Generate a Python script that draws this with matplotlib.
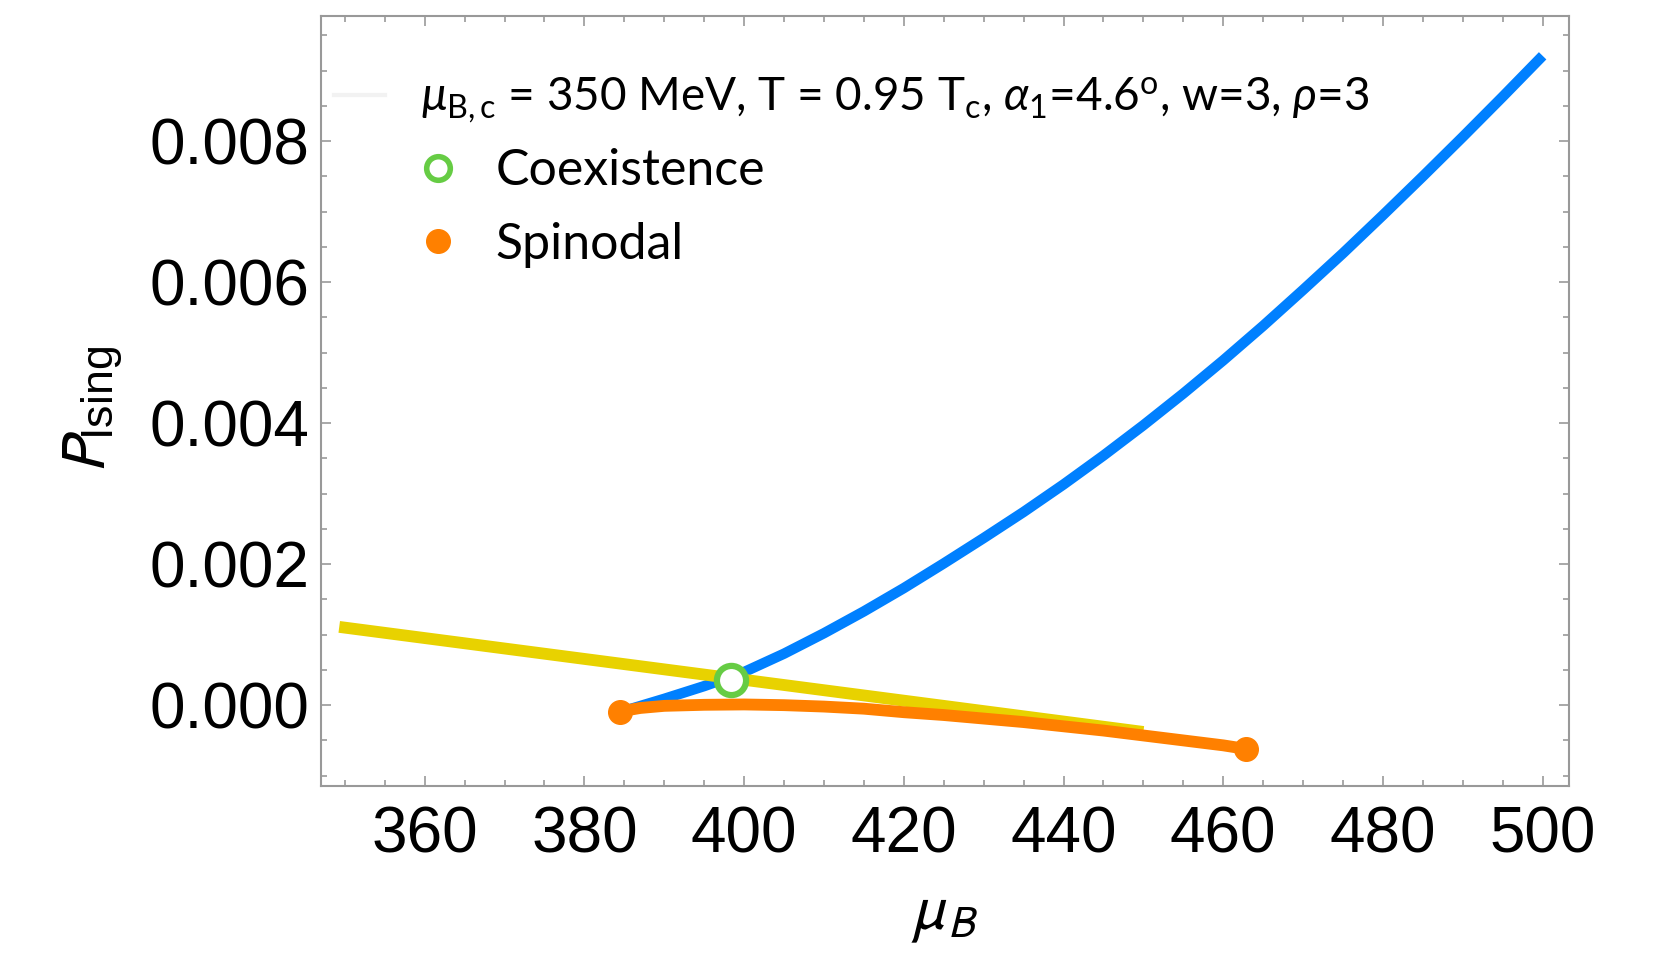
import matplotlib
matplotlib.use("Agg")
import matplotlib.pyplot as plt
from matplotlib.lines import Line2D
from matplotlib.ticker import MultipleLocator, FormatStrFormatter

plt.rcParams['font.family'] = ['Liberation Sans', 'DejaVu Sans']
plt.rcParams['mathtext.fontset'] = 'custom'
plt.rcParams['mathtext.rm'] = 'Lato'
plt.rcParams['mathtext.it'] = 'Lato:italic'
plt.rcParams['mathtext.fallback'] = 'stixsans'

# pressure branches
mu_stable = [385, 390, 395, 400, 405, 410, 415, 420, 425, 430, 435, 440,
             445, 450, 455, 460, 465, 470, 475, 480, 485, 490, 495, 500]
p_stable = [-0.00008, 0.00009, 0.00027, 0.00047, 0.00073, 0.00102, 0.00133, 0.00166,
            0.00201, 0.00237, 0.00274, 0.00313, 0.00354, 0.00397, 0.00442, 0.00489,
            0.00538, 0.00589, 0.00641, 0.00695, 0.00750, 0.00806, 0.00863, 0.00921]

mu_meta = [349.3, 450.0]
p_meta = [0.00111, -0.00038]

mu_unstable = [384.4, 387, 390, 395, 400, 405, 410, 415, 420, 425, 430, 435,
               440, 445, 450, 455, 460, 462.8]
p_unstable = [-0.00009, -0.00004, -0.00001, 0.000005, 0.00001, 0.0, -0.00002, -0.00005,
              -0.00010, -0.00014, -0.00019, -0.00024, -0.00030, -0.00036, -0.00043,
              -0.00050, -0.00057, -0.00062]

coex_mu = [398.3]
coex_p = [0.00036]
spin_mu = [384.4, 462.8]
spin_p = [-0.00009, -0.00062]

param_label = r'$\mu_{\mathrm{B,c}}$ = 350 MeV, T = 0.95 T$_{\mathrm{c}}$, $\alpha_1$=4.6$^{\mathrm{o}}$, w=3, $\rho$=3'

blue = '#0080ff'
yellow = '#e8d200'
orange = '#ff8000'
green = '#66cc44'
frame = '#999999'

fig = plt.figure(figsize=(16.54, 9.6), dpi=100)
ax = fig.add_axes([0.194, 0.181, 0.7546, 0.802])

ax.plot(mu_stable, p_stable, color=blue, lw=7.5, solid_capstyle='butt', zorder=2)
ax.plot(mu_meta, p_meta, color=yellow, lw=8.5, solid_capstyle='butt', zorder=3)
ax.plot(mu_unstable, p_unstable, color=orange, lw=8.5, solid_capstyle='butt', zorder=4)
ax.plot(spin_mu, spin_p, 'o', color=orange, ms=17, zorder=5)
ax.plot(coex_mu, coex_p, 'o', mfc='white', mec=green, mew=4.5, ms=21, zorder=6)

ax.set_xlim(347, 503.3)
ax.set_ylim(-0.00115, 0.00977)

ax.xaxis.set_major_locator(MultipleLocator(20))
ax.xaxis.set_minor_locator(MultipleLocator(5))
ax.yaxis.set_major_locator(MultipleLocator(0.002))
ax.yaxis.set_minor_locator(MultipleLocator(0.0005))
ax.yaxis.set_major_formatter(FormatStrFormatter('%.3f'))

ax.tick_params(which='both', direction='in', top=True, right=True, color=frame, width=1.2)
ax.tick_params(which='major', length=7, labelsize=46)
ax.tick_params(which='minor', length=4)
ax.tick_params(axis='x', pad=14)
ax.tick_params(axis='y', pad=8)
for s in ax.spines.values():
    s.set_color(frame)
    s.set_linewidth(1.5)

ax.set_xlabel(r'$\mu_B$', fontsize=46, math_fontfamily='stixsans', labelpad=14)
ax.set_ylabel(r'$P_{\mathregular{Ising}}$', fontsize=46, math_fontfamily='stixsans')
ax.yaxis.set_label_coords(-0.157, 0.49)

# parameter line with its faint handle
leg1 = ax.legend(handles=[Line2D([], [], color='#f2f2f2', lw=3)], labels=[param_label],
                 loc='upper left', bbox_to_anchor=(-0.015, 0.965), frameon=False,
                 prop={'family': 'Lato', 'size': 33}, handlelength=1.1, handletextpad=0.8,
                 borderaxespad=0.3)
ax.add_artist(leg1)

handles = [Line2D([], [], ls='none', marker='o', mfc='white', mec=green, mew=4, ms=17),
           Line2D([], [], ls='none', marker='o', color=orange, ms=17)]
ax.legend(handles=handles, labels=['Coexistence', 'Spinodal'], loc='upper left',
          bbox_to_anchor=(0.038, 0.887), frameon=False, prop={'family': 'Lato', 'size': 36},
          handlelength=1.0, handletextpad=0.65, labelspacing=0.55)

fig.savefig('out.png', dpi=100)
